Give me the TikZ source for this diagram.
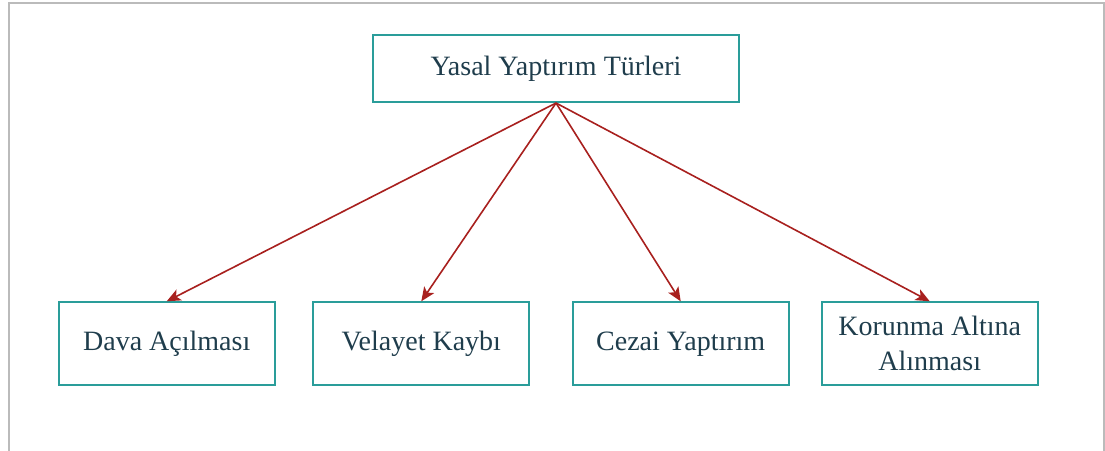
\documentclass[tikz,border=0pt]{standalone}
\usepackage{fontspec}
\setmainfont{Liberation Serif}
\usetikzlibrary{arrows.meta}
\definecolor{boxc}{HTML}{2A9D9A}
\definecolor{txtc}{HTML}{1F3D4C}
\definecolor{arrc}{HTML}{A8201E}
\definecolor{framec}{HTML}{BBBBBB}
\begin{document}
\begin{tikzpicture}[x=1pt,y=-1pt,
  box/.style={draw=boxc, line width=2pt, rectangle, minimum width=216pt, minimum height=83pt,
    inner sep=0pt, text=txtc, font=\fontsize{28}{35}\selectfont, align=center},
  topbox/.style={box, minimum width=366pt, minimum height=67pt},
  link/.style={draw=arrc, line width=1.6pt, -{Stealth[length=14pt,width=12pt,inset=3.5pt]}},
  frameline/.style={draw=framec, line width=1.8pt}]
\useasboundingbox (0,0) rectangle (1105,450);
\draw[frameline] (8.7,452) -- (8.7,2.7) -- (1103.7,2.7) -- (1103.7,452);
\node[topbox] (root) at (556,68.5) {Yasal Yaptırım Türleri};
\node[box] (a) at (166.7,343.8) {Dava Açılması};
\node[box] (b) at (421.3,343.8) {Velayet Kaybı};
\node[box] (c) at (680.7,343.8) {Cezai Yaptırım};
\node[box] (d) at (929.7,343.8) {Korunma Altına\\Alınması};
\draw[link] (root.south) -- (a.north);
\draw[link] (root.south) -- (b.north);
\draw[link] (root.south) -- (c.north);
\draw[link] (root.south) -- (d.north);
\end{tikzpicture}
\end{document}
